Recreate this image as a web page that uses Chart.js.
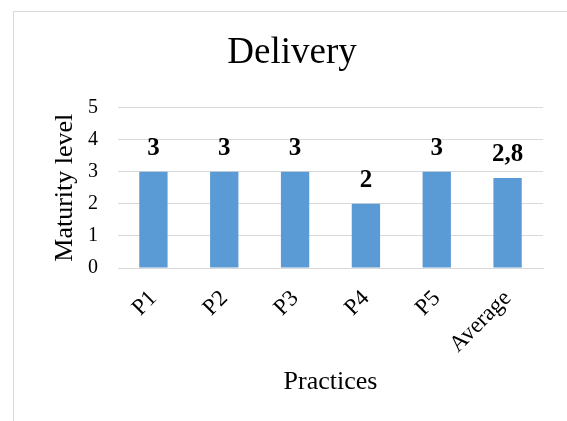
<!DOCTYPE html>
<html>
<head>
<meta charset="utf-8">
<script src="https://cdn.jsdelivr.net/npm/chart.js@4.4.1/dist/chart.umd.min.js"></script>
<style>
  html, body { margin: 0; padding: 0; background: #fff; overflow: hidden; }
  #frame {
    position: absolute; left: 13px; top: 11px; width: 600px; height: 460px;
    border: 1px solid #d9d9d9; box-sizing: border-box;
  }
  #wrap { position: absolute; left: 13px; top: 11px; width: 558px; height: 410px; }
</style>
</head>
<body>
<div id="frame"></div>
<div id="wrap"><canvas id="deliveryChart"></canvas></div>
<script>
const practices = ['P1', 'P2', 'P3', 'P4', 'P5', 'Average'];
const maturity = [3, 3, 3, 2, 3, 2.8];
const levelTicks = [0, 1, 2, 3, 4, 5];

const serif = 'Liberation Serif';
const gridGrey = '#d9d9d9';

// writes each bar's value above it, with a decimal comma
const valueLabels = {
    id: 'valueLabels',
    afterDatasetsDraw(chart) {
        const ctx = chart.ctx;
        const meta = chart.getDatasetMeta(0);
        ctx.save();
        ctx.font = 'bold 25px "' + serif + '"';
        ctx.fillStyle = '#000';
        ctx.textAlign = 'center';
        ctx.textBaseline = 'alphabetic';
        meta.data.forEach((bar, i) => {
            const text = String(maturity[i]).replace('.', ',');
            ctx.fillText(text, bar.x, bar.y - 17);
        });
        ctx.restore();
    }
};

const ctx = document.getElementById('deliveryChart').getContext('2d');
new Chart(ctx, {
    type: 'bar',
    data: {
        labels: practices,
        datasets: [{
            data: maturity,
            backgroundColor: '#5b9bd5',
            barPercentage: 0.4,
            categoryPercentage: 1
        }]
    },
    options: {
        responsive: true,
        maintainAspectRatio: false,
        animation: false,
        layout: { padding: { left: 28, right: 28, top: 0, bottom: 23 } },
        plugins: {
            legend: { display: false },
            tooltip: { enabled: false },
            title: {
                display: true,
                text: 'Delivery',
                color: '#000',
                font: { family: serif, size: 37, weight: 'normal' },
                padding: { top: 20, bottom: 32 }
            }
        },
        scales: {
            x: {
                grid: { display: false, drawTicks: false },
                border: { display: true, color: gridGrey, width: 1 },
                ticks: {
                    color: '#000',
                    font: { family: serif, size: 23 },
                    minRotation: 45,
                    maxRotation: 45,
                    padding: 17,
                    autoSkip: false
                },
                title: {
                    display: true,
                    text: 'Practices',
                    color: '#000',
                    font: { family: serif, size: 26 },
                    padding: { top: 0, bottom: 0 }
                },
                afterFit(scale) { scale.height = 130; }
            },
            y: {
                min: 0,
                max: 5,
                afterBuildTicks(scale) {
                    scale.ticks = levelTicks.map(v => ({ value: v }));
                },
                grid: { color: gridGrey, lineWidth: 1, drawTicks: false },
                border: { display: false },
                ticks: {
                    color: '#000',
                    font: { family: serif, size: 20 },
                    padding: 20
                },
                title: {
                    display: true,
                    text: 'Maturity level',
                    color: '#000',
                    font: { family: serif, size: 26 },
                    padding: { top: 9, bottom: 0 }
                },
                afterFit(scale) { scale.width = 77; }
            }
        }
    },
    plugins: [valueLabels]
});
</script>
</body>
</html>
